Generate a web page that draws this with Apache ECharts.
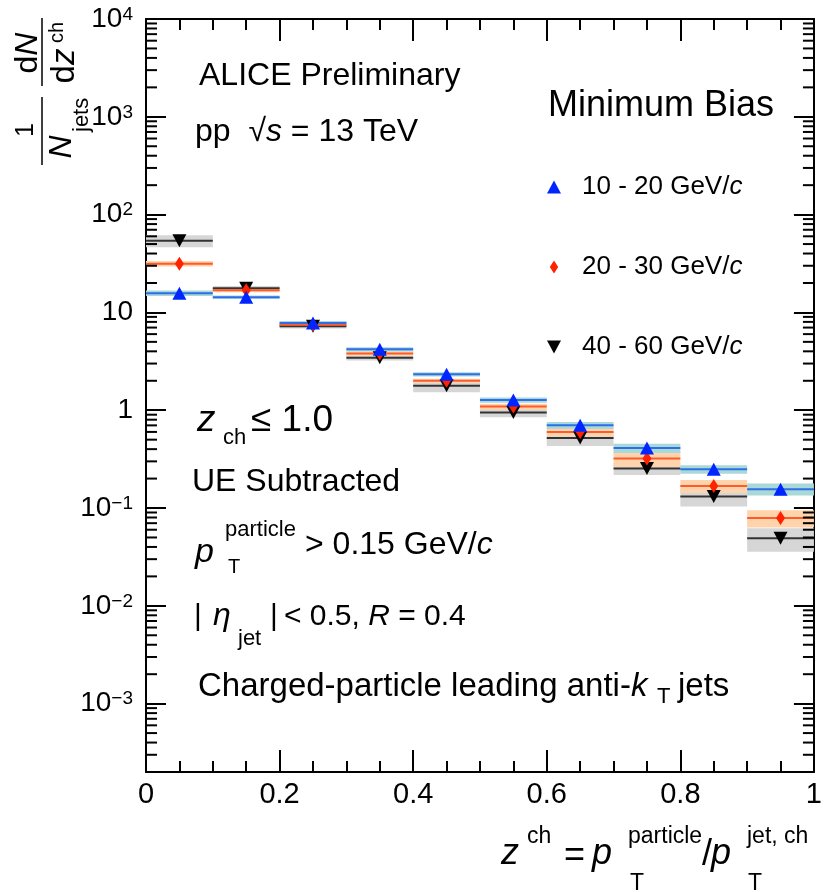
<!DOCTYPE html>
<html>
<head>
<meta charset="utf-8">
<script src="https://cdn.jsdelivr.net/npm/echarts@6/dist/echarts.min.js"></script>
<style>
    html, body { margin: 0; padding: 0; background: #fff; }
    #chart { width: 825px; height: 892px; }
</style>
</head>
<body>
<div id="chart"></div>
<script>
var FONT = '"Liberation Sans", Arial, Helvetica, sans-serif';

// z^ch bins
var binLow = [0.0, 0.1, 0.2, 0.3, 0.4, 0.5, 0.6, 0.7, 0.8, 0.9];
var binHigh = [0.1, 0.2, 0.3, 0.4, 0.5, 0.6, 0.7, 0.8, 0.9, 1.0];
var binCenter = [0.05, 0.15, 0.25, 0.35, 0.45, 0.55, 0.65, 0.75, 0.85, 0.95];

// 10 - 20 GeV/c
var yield1020 = [15.7, 14.3, 7.8, 4.2, 2.33, 1.27, 0.70, 0.41, 0.249, 0.156];
var sys1020 = [0.065, 0.04, 0.05, 0.05, 0.05, 0.06, 0.08, 0.11, 0.10, 0.14];
// 20 - 30 GeV/c
var yield2030 = [31.5, 16.9, 7.5, 3.8, 2.0, 1.09, 0.60, 0.32, 0.168, 0.079];
var sys2030 = [0.065, 0.05, 0.05, 0.05, 0.05, 0.07, 0.10, 0.18, 0.15, 0.20];
// 40 - 60 GeV/c
var yield4060 = [54, 17.7, 7.2, 3.43, 1.78, 0.95, 0.52, 0.253, 0.131, 0.049];
var sys4060 = [0.14, 0.05, 0.05, 0.06, 0.14, 0.11, 0.17, 0.14, 0.21, 0.27];

var seriesNames = ['10 - 20 GeV/c', '20 - 30 GeV/c', '40 - 60 GeV/c'];

var yMin = 2e-4;
var yMax = 1e4;

// log axis minor ticks at 2..9 x 10^n
var minorTickValues = [];
for (var ex = -4; ex < 4; ex++) {
    for (var m = 2; m <= 9; m++) {
        var tv = m * Math.pow(10, ex);
        if (tv > yMin * 1.001 && tv < yMax) minorTickValues.push(tv);
    }
}

var triUp = 'path://M7,0L14,13L0,13Z';
var triDown = 'path://M0,0L14,0L7,13Z';
var diamond = 'path://M4.5,0L9,7L4.5,14L0,7Z';

function boxSeries(name, yields, sys, fill) {
    return {
        name: name, type: 'custom', z: 1, silent: true,
        data: binLow.map(function (x0, i) { return [x0, binHigh[i], yields[i], sys[i]]; }),
        encode: {x: [0, 1], y: 2},
        renderItem: function (params, api) {
            var val = api.value(2), r = api.value(3);
            var p0 = api.coord([api.value(0), val * (1 + r)]);
            var p1 = api.coord([api.value(1), val * (1 - r)]);
            return {
                type: 'rect',
                shape: {x: p0[0], y: p0[1], width: p1[0] - p0[0], height: p1[1] - p0[1]},
                style: {fill: fill}
            };
        }
    };
}

function lineSeries(name, yields, color) {
    return {
        name: name, type: 'custom', z: 2, silent: true,
        data: binLow.map(function (x0, i) { return [x0, binHigh[i], yields[i]]; }),
        encode: {x: [0, 1], y: 2},
        renderItem: function (params, api) {
            var a = api.coord([api.value(0), api.value(2)]);
            var b = api.coord([api.value(1), api.value(2)]);
            return {
                type: 'line',
                shape: {x1: a[0], y1: a[1], x2: b[0], y2: b[1]},
                style: {stroke: color, lineWidth: 2}
            };
        }
    };
}

// short inward tick marks on the left (edge 0) or right (edge 1) frame
function minorTickSeries(edge) {
    return {
        name: 'minor ticks ' + edge, type: 'custom', z: 6, silent: true, clip: false,
        data: minorTickValues.map(function (v) { return [0.5, v]; }),
        encode: {x: 0, y: 1},
        renderItem: function (params, api) {
            var p = api.coord([edge, api.value(1)]);
            var dx = edge === 0 ? 11 : -11;
            return {
                type: 'line',
                shape: {x1: p[0], y1: p[1], x2: p[0] + dx, y2: p[1]},
                style: {stroke: '#000', lineWidth: 2}
            };
        }
    };
}

function pointSeries(name, yields, symbol, size, color, z) {
    return {
        name: name, type: 'scatter', z: z, silent: true,
        symbol: symbol, symbolSize: size,
        itemStyle: {color: color, opacity: 1},
        data: binCenter.map(function (x, i) { return [x, yields[i]]; })
    };
}

function decadeLabel(val) {
    var lg = Math.log10(val);
    var n = Math.round(lg);
    if (Math.abs(lg - n) > 1e-6 || val < yMin * 1.5) return '';
    if (n === 0) return '1';
    if (n === 1) return '10';
    return '10{sup|' + (n < 0 ? '\u2212' + (-n) : n) + '}';
}

function txt(x, y, text, size, extra) {
    var style = {
        text: text, fontSize: size, fontFamily: FONT, fill: '#000',
        align: 'left', verticalAlign: 'middle',
        rich: {i: {fontStyle: 'italic', fontSize: size, fontFamily: FONT}}
    };
    for (var k in extra || {}) style[k] = extra[k];
    return {type: 'text', x: x, y: y, silent: true, style: style};
}

function bar(x1, y1, x2, y2) {
    return {type: 'line', silent: true, shape: {x1: x1, y1: y1, x2: x2, y2: y2},
        style: {stroke: '#000', lineWidth: 1.5}};
}

// y axis title, drawn rotated (local x runs up the page, local y = page x)
var yTitle = {
    type: 'group', x: 0, y: 170, rotation: Math.PI / 2,
    children: [
        txt(117, 28, 'd{i|N}', 32, {align: 'center'}),
        bar(84, 42, 152, 42),
        txt(104, 65, 'd{i|z}', 33, {align: 'center'}),
        txt(127, 57, 'ch', 20),
        txt(40, 26, '1', 25, {align: 'center'}),
        bar(5, 42, 73, 42),
        txt(23, 62, '{i|N}', 32, {align: 'center'}),
        txt(38, 82, 'jets', 22)
    ]
};

var annotations = [
    txt(199, 76, 'ALICE Preliminary', 32),
    txt(195, 132, 'pp  \u221A{i|s} = 13 TeV', 32),
    txt(548, 106, 'Minimum Bias', 36),
    txt(197, 421, '{i|z}', 37),
    txt(223, 438, 'ch', 22),
    txt(251, 421, '\u2264 1.0', 37),
    txt(192, 482, 'UE Subtracted', 32),
    txt(195, 553, '{i|p}', 34),
    txt(225, 530, 'particle', 22),
    txt(228, 567, 'T', 20),
    txt(305, 545, '> 0.15 GeV/{i|c}', 32),
    txt(194, 617, '|', 30),
    txt(213, 616, '{i|\u03B7}', 32),
    txt(238, 639, 'jet', 22),
    txt(270, 617, '|', 30),
    txt(284, 617, '< 0.5, {i|R} = 0.4', 30),
    txt(198, 687, 'Charged-particle leading anti-{i|k}', 33),
    txt(657, 697, 'T', 22),
    txt(678, 687, 'jets', 33),
    // x axis title
    txt(501, 854, '{i|z}', 36),
    txt(527, 837, 'ch', 23),
    txt(564, 856, '=', 36),
    txt(592, 854, '{i|p}', 36),
    txt(628, 837, 'particle', 23),
    txt(630, 884, 'T', 23),
    txt(702, 855, '/', 36),
    txt(711, 854, '{i|p}', 36),
    txt(747, 837, 'jet, ch', 23),
    txt(748, 884, 'T', 23),
    yTitle
];

var axisLineStyle = {color: '#000', width: 2};

var xAxisBase = {
    type: 'value', min: 0, max: 1, interval: 0.2,
    axisLine: {show: true, onZero: false, lineStyle: axisLineStyle},
    axisTick: {show: true, inside: true, length: 22, lineStyle: axisLineStyle},
    minorTick: {show: true, splitNumber: 4, length: 11, lineStyle: axisLineStyle},
    splitLine: {show: false},
    minorSplitLine: {show: false}
};

var yAxisBase = {
    type: 'log', logBase: 10, min: yMin, max: yMax,
    axisLine: {show: true, onZero: false, lineStyle: axisLineStyle},
    axisTick: {show: true, inside: true, length: 20, lineStyle: axisLineStyle},
    splitLine: {show: false}
};

var option = {
    animation: false,
    backgroundColor: '#fff',
    grid: {left: 146, right: 6, top: 19, bottom: 120, containLabel: false},
    legend: {
        data: seriesNames.map(function (n, i) {
            return {name: n, icon: [triUp, diamond, triDown][i]};
        }),
        orient: 'vertical', left: 547, top: 172, padding: 0,
        itemWidth: 46, itemHeight: 13, itemGap: 50,
        selectedMode: false,
        formatter: function (name) { return name.replace(/c$/, '{i|c}'); },
        textStyle: {
            fontSize: 26, fontFamily: FONT, color: '#000', lineHeight: 30,
            rich: {i: {fontSize: 26, fontFamily: FONT, fontStyle: 'italic', color: '#000'}}
        }
    },
    xAxis: [
        Object.assign({}, xAxisBase, {
            position: 'bottom',
            axisLabel: {fontSize: 29, fontFamily: FONT, color: '#000', margin: 8}
        }),
        Object.assign({}, xAxisBase, {position: 'top', axisLabel: {show: false}})
    ],
    yAxis: [
        Object.assign({}, yAxisBase, {
            position: 'left',
            axisLabel: {
                fontSize: 28, fontFamily: FONT, color: '#000', margin: 13,
                showMinLabel: false,
                formatter: decadeLabel,
                rich: {sup: {fontSize: 19, fontFamily: FONT, color: '#000', verticalAlign: 'top'}}
            }
        }),
        Object.assign({}, yAxisBase, {position: 'right', axisLabel: {show: false}})
    ],
    graphic: annotations,
    series: [
        boxSeries('sys 40-60', yield4060, sys4060, '#d6d6d6'),
        boxSeries('sys 20-30', yield2030, sys2030, '#ffd3ab'),
        boxSeries('sys 10-20', yield1020, sys1020, '#a9d8d8'),
        lineSeries('bin 40-60', yield4060, '#333333'),
        lineSeries('bin 20-30', yield2030, '#ff5a2a'),
        lineSeries('bin 10-20', yield1020, '#2f6ee8'),
        pointSeries(seriesNames[2], yield4060, triDown, [14, 13], '#000000', 3),
        pointSeries(seriesNames[1], yield2030, diamond, [9, 14], '#ff2200', 4),
        pointSeries(seriesNames[0], yield1020, triUp, [14, 13], '#0026ff', 5),
        minorTickSeries(0),
        minorTickSeries(1)
    ]
};

var chart = echarts.init(document.getElementById('chart'));
chart.setOption(option);
</script>
</body>
</html>
